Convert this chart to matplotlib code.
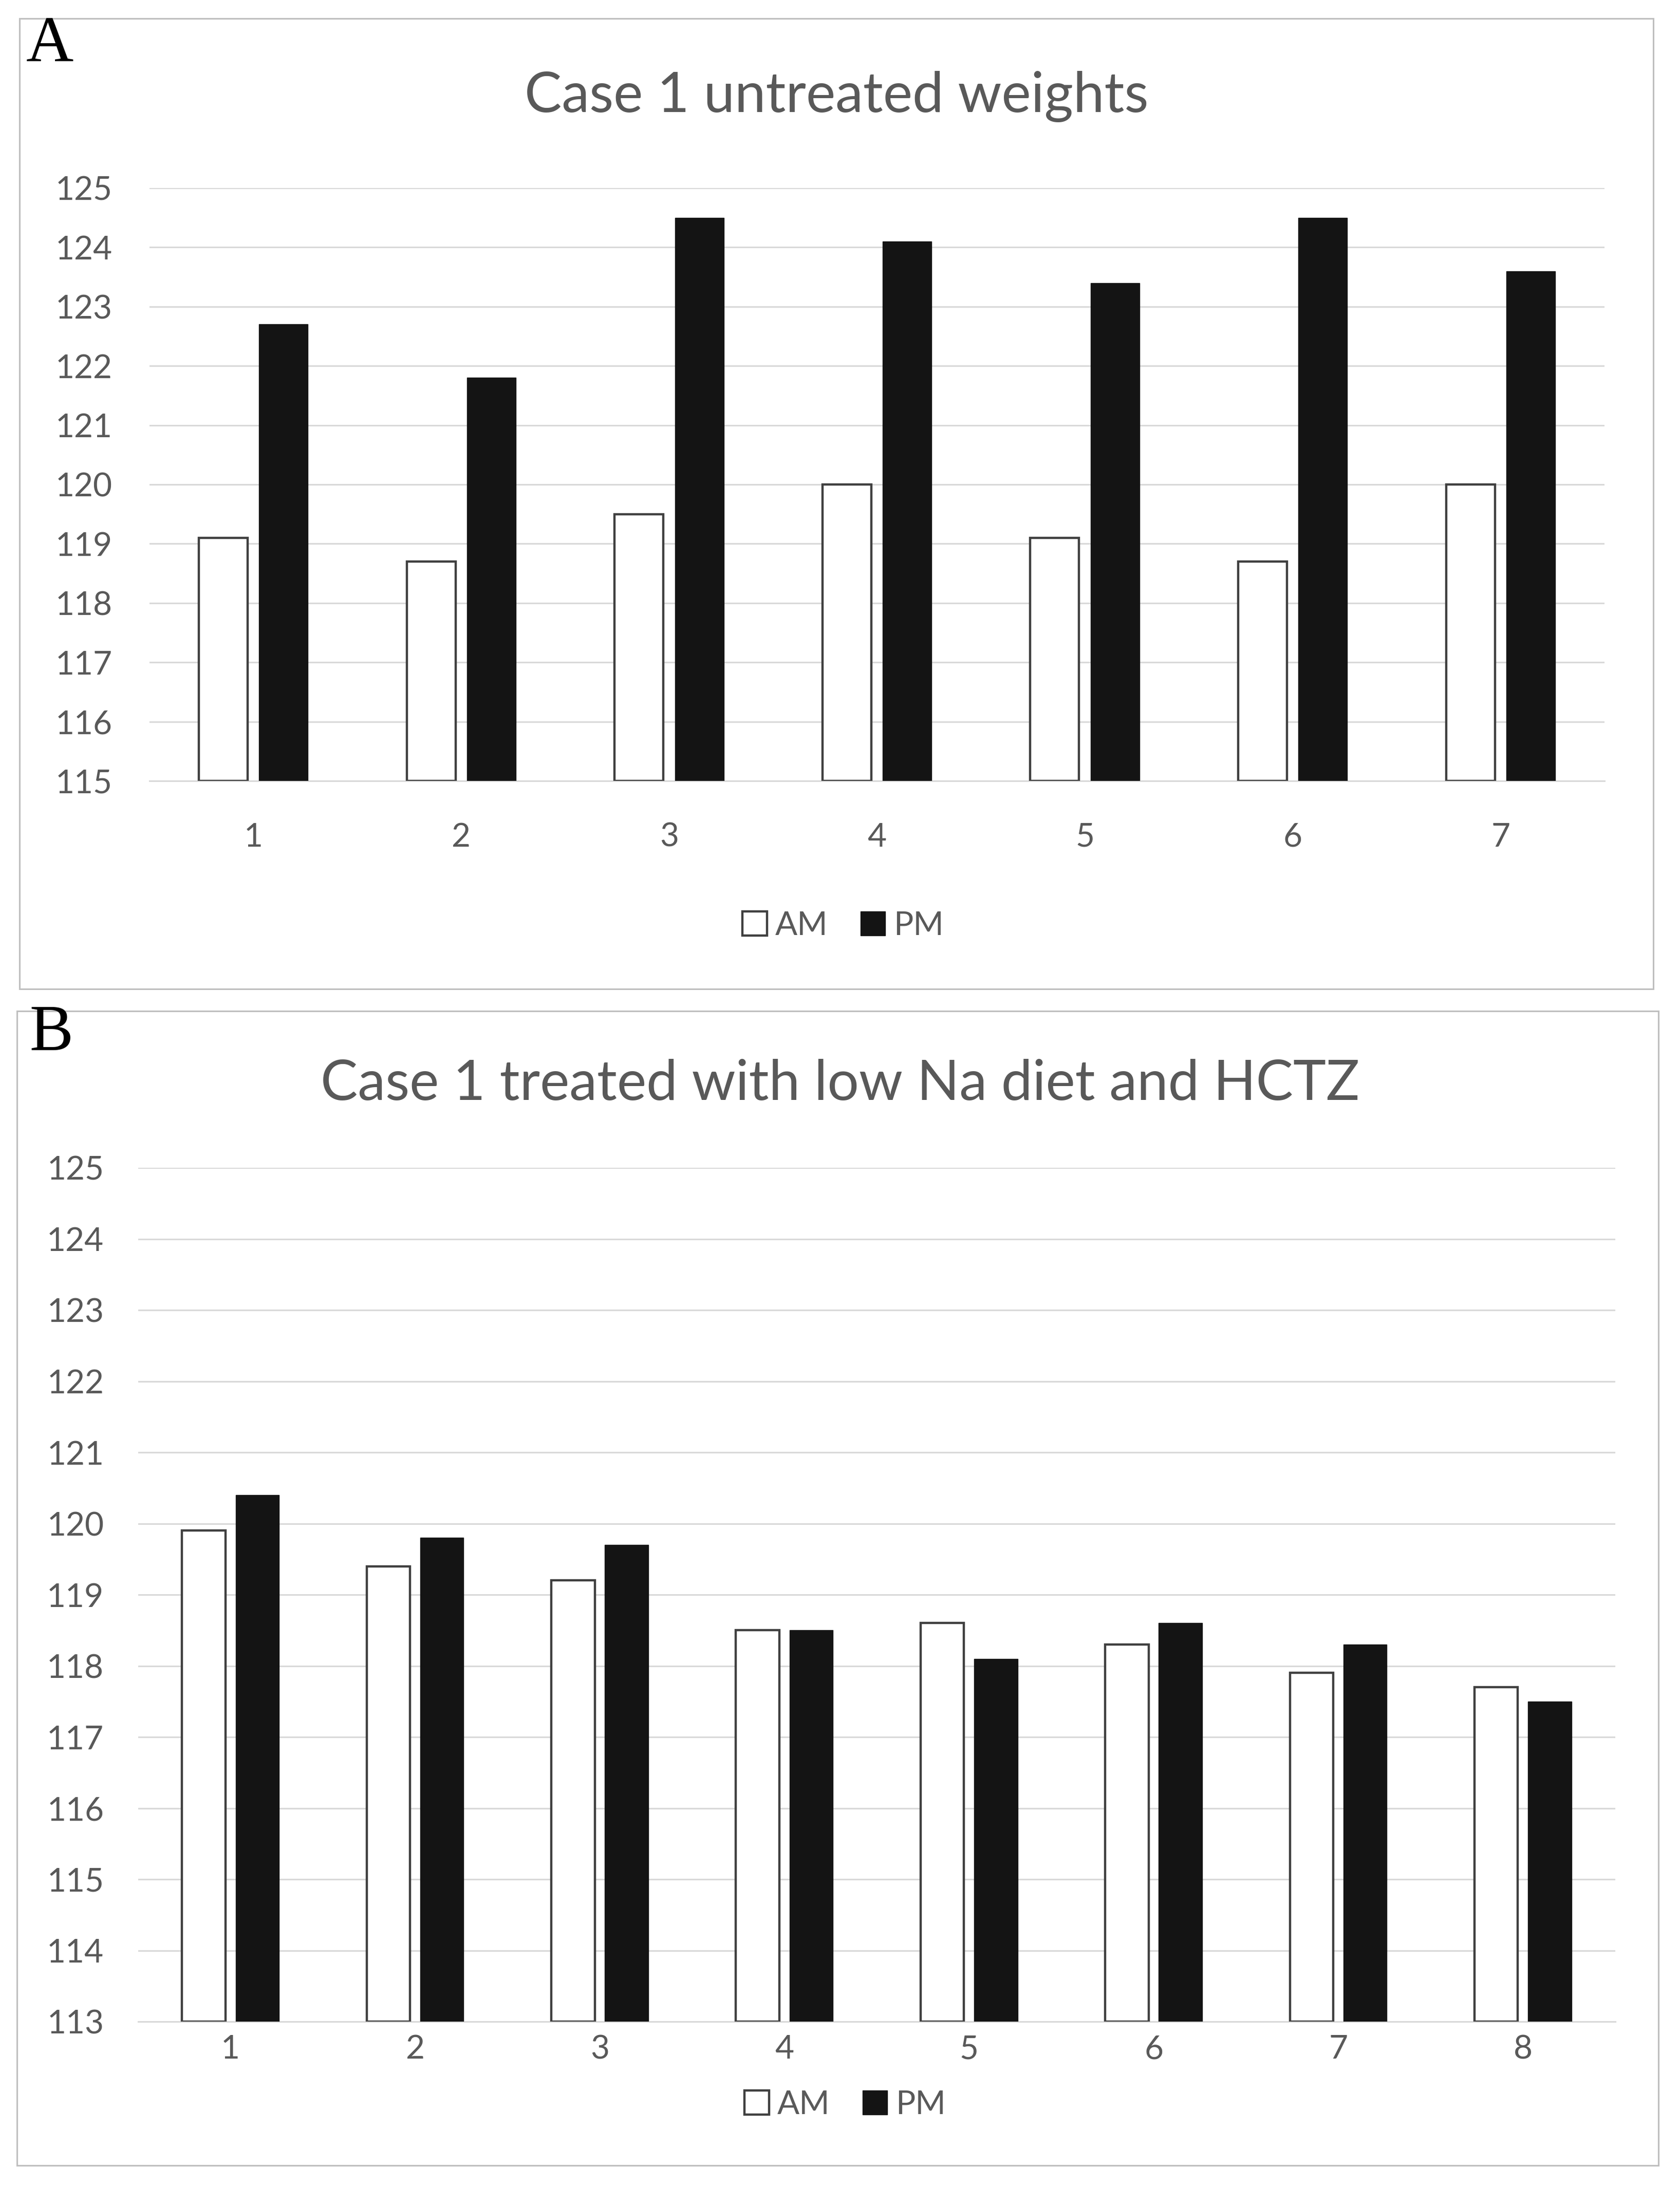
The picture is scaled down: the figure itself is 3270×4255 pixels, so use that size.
import matplotlib
matplotlib.use("Agg")
import matplotlib.pyplot as plt
from matplotlib.patches import Rectangle, Patch
import numpy as np

plt.rcParams['font.family'] = ['Lato', 'DejaVu Sans']

# ---------------- data ----------------
days_a = ["1", "2", "3", "4", "5", "6", "7"]
am_a = [119.1, 118.7, 119.5, 120.0, 119.1, 118.7, 120.0]
pm_a = [122.7, 121.8, 124.5, 124.1, 123.4, 124.5, 123.6]
title_a = "Case 1 untreated weights"
yticks_a = list(range(115, 126))

days_b = ["1", "2", "3", "4", "5", "6", "7", "8"]
am_b = [119.9, 119.4, 119.2, 118.5, 118.6, 118.3, 117.9, 117.7]
pm_b = [120.4, 119.8, 119.7, 118.5, 118.1, 118.6, 118.3, 117.5]
title_b = "Case 1 treated with low Na diet and HCTZ"
yticks_b = list(range(113, 126))

series_names = ["AM", "PM"]

# ---------------- style ----------------
W, H = 3270, 4255
TXT = "#595959"
GRID = "#d9d9d9"
FRAME = "#bfbfbf"
EDGE = "#404040"
FILL_PM = "#141414"

fig = plt.figure(figsize=(W / 100, H / 100), dpi=100)
fig.patch.set_facecolor("white")


def fx(px):
    return px / W


def fy(py):
    return 1 - py / H


def panel(ax_box, frame_box, days, am, pm, yticks, title, title_xy, letter, letter_xy,
          leg_xy, ypad, xpad):
    x0, x1, y0, y1 = ax_box
    ax = fig.add_axes([fx(x0), fy(y1), fx(x1) - fx(x0), fy(y0) - fy(y1)])
    fx0, fx1, fy0, fy1 = frame_box
    fig.patches.append(Rectangle((fx(fx0), fy(fy1)), fx(fx1) - fx(fx0), fy(fy0) - fy(fy1),
                                 transform=fig.transFigure, fill=False,
                                 edgecolor=FRAME, linewidth=2.2, zorder=0))
    x = np.arange(len(days))
    w = 0.235
    off = 0.145
    ax.bar(x - off, np.array(am) - yticks[0], bottom=yticks[0], width=w,
           facecolor="white", edgecolor=EDGE, linewidth=3.2, zorder=3)
    ax.bar(x + off, np.array(pm) - yticks[0], bottom=yticks[0], width=w,
           facecolor=FILL_PM, edgecolor=FILL_PM, linewidth=1.0, zorder=3)
    ax.set_xlim(-0.5, len(days) - 0.5)
    ax.set_ylim(yticks[0], yticks[-1])
    ax.set_yticks(yticks)
    ax.set_yticklabels([str(t) for t in yticks])
    ax.set_xticks(x)
    ax.set_xticklabels(days)
    ax.yaxis.grid(True, color=GRID, linewidth=2.2, zorder=0)
    ax.set_axisbelow(True)
    for s in ["top", "right", "left"]:
        ax.spines[s].set_visible(False)
    ax.spines["bottom"].set_color(GRID)
    ax.spines["bottom"].set_linewidth(2.2)
    ax.tick_params(axis="both", length=0, labelsize=46, colors=TXT)
    ax.tick_params(axis="y", pad=ypad)
    ax.tick_params(axis="x", pad=xpad)
    fig.text(fx(title_xy[0]), fy(title_xy[1]), title, ha="center", va="center",
             fontsize=78, color=TXT)
    fig.text(fx(letter_xy[0]), fy(letter_xy[1]), letter, ha="center", va="center",
             fontsize=92, color="black", family=["Liberation Serif", "DejaVu Serif"])
    handles = [Patch(facecolor="white", edgecolor=EDGE, linewidth=3.2, label=series_names[0]),
               Patch(facecolor=FILL_PM, edgecolor=FILL_PM, label=series_names[1])]
    fig.legend(handles=handles, loc="center", bbox_to_anchor=(fx(leg_xy[0]), fy(leg_xy[1])),
               ncol=2, frameon=False, fontsize=46, labelcolor=TXT,
               handlelength=0.75, handleheight=0.75, handletextpad=0.25,
               columnspacing=1.0)
    return ax


panel((291, 3123, 366, 1520), (38, 3218, 36, 1925), days_a, am_a, pm_a, yticks_a,
      title_a, (1628, 188), "A", (97, 88), (1641, 1802), 52, 58)
panel((269, 3144, 2273, 3935), (33, 3228, 1968, 4215), days_b, am_b, pm_b, yticks_b,
      title_b, (1635, 2110), "B", (100, 2013), (1645, 4097), 48, 18)

fig.savefig("out.png", dpi=100, facecolor="white")
